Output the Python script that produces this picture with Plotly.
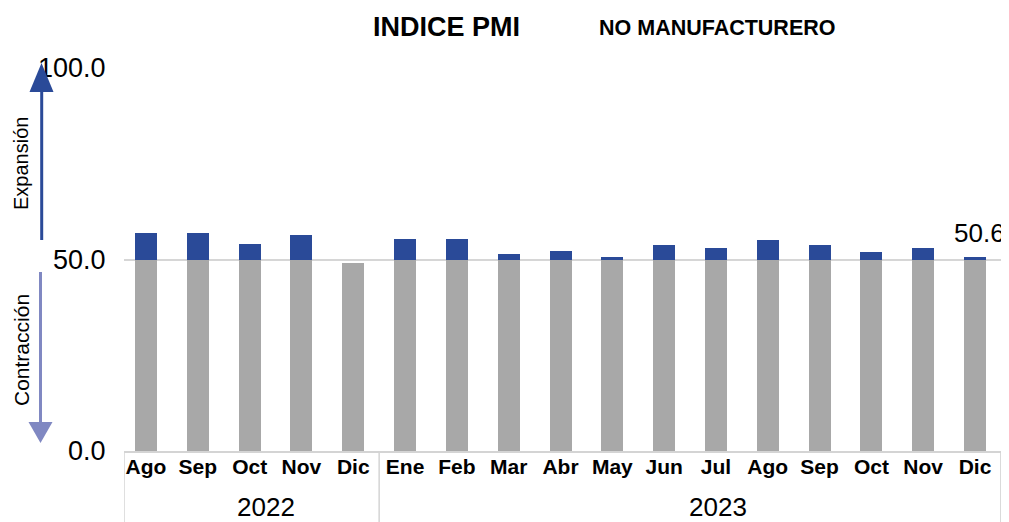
import plotly.graph_objects as go

months = ["Ago", "Sep", "Oct", "Nov", "Dic",
          "Ene", "Feb", "Mar", "Abr", "May", "Jun", "Jul", "Ago", "Sep", "Oct", "Nov", "Dic"]
years = ["2022", "2023"]
year_counts = [5, 12]
pmi = [56.9, 56.9, 54.0, 56.3, 49.2,
       55.3, 55.3, 51.4, 52.2, 50.6, 53.7, 53.0, 55.0, 53.7, 51.9, 53.0, 50.6]
threshold = 50.0
y_ticks = [0, 50, 100]

FONT = "Liberation Sans, Arial, sans-serif"
BLUE = "#2a4a98"
GREY = "#a8a8a8"
LIGHT = "#8088c2"

# the page body has an 8px margin; work in window pixels and convert
OFF = 8
WIN_W, WIN_H = 1009, 522
W, H = WIN_W - OFF, WIN_H - OFF
PLOT_L, PLOT_R, PLOT_T, PLOT_B = 124, 1007, 68, 451   # window pixels
L = PLOT_L - OFF
T = PLOT_T - OFF
R = W - (PLOT_R - OFF)
B = H - (PLOT_B - OFF)
PW, PH = W - L - R, H - T - B

# category axis: first bar centre at 146px, last at 975px
CAT_FIRST_PX, CAT_LAST_PX = 146, 975
n = len(months)
step = (CAT_LAST_PX - CAT_FIRST_PX) / (n - 1)
x_lo = (PLOT_L - CAT_FIRST_PX) / step
x_hi = (n - 1) + (PLOT_R - CAT_LAST_PX) / step


def px_x(px):
    return (px - PLOT_L) / PW


def px_y(py):
    return (PLOT_B - py) / PH


idx = list(range(n))
base_part = [min(v, threshold) for v in pmi]
above_part = [max(v - threshold, 0) for v in pmi]

fig = go.Figure()
fig.add_trace(go.Bar(x=idx, y=base_part, width=22 / step,
                     marker=dict(color=GREY, line=dict(width=0)), hoverinfo="skip"))
fig.add_trace(go.Bar(x=idx, y=above_part, width=22 / step,
                     marker=dict(color=BLUE, line=dict(width=0)),
                     customdata=pmi, hovertemplate="%{customdata}<extra></extra>"))

shapes = []
# arrows on the left
shapes.append(dict(type="line", xref="paper", yref="paper",
                   x0=px_x(41.7), x1=px_x(41.7), y0=px_y(240), y1=px_y(90),
                   line=dict(color=BLUE, width=3)))
shapes.append(dict(type="path", xref="paper", yref="paper",
                   path=f"M {px_x(29.5)} {px_y(92)} L {px_x(53.5)} {px_y(92)} L {px_x(41.5)} {px_y(63)} Z",
                   fillcolor=BLUE, line=dict(width=0)))
shapes.append(dict(type="line", xref="paper", yref="paper",
                   x0=px_x(40.5), x1=px_x(40.5), y0=px_y(272), y1=px_y(424),
                   line=dict(color=LIGHT, width=3)))
shapes.append(dict(type="path", xref="paper", yref="paper",
                   path=f"M {px_x(28.5)} {px_y(422)} L {px_x(52.5)} {px_y(422)} L {px_x(40.5)} {px_y(443)} Z",
                   fillcolor=LIGHT, line=dict(width=0)))
# category group separators
sep_positions = [-0.5]
acc = -0.5
for c in year_counts:
    acc += c
    sep_positions.append(acc)
for s in sep_positions:
    s = min(max(s, x_lo), x_hi)
    shapes.append(dict(type="line", xref="x", yref="paper", x0=s, x1=s, y0=0, y1=-B / PH,
                       line=dict(color="#d4d4d4", width=1.5)))


def ann(text, xp, yp, size, angle=0):
    return dict(text=text, xref="paper", yref="paper", x=px_x(xp), y=px_y(yp),
                xanchor="center", yanchor="middle", textangle=angle,
                showarrow=False, font=dict(family=FONT, size=size, color="black"))


annotations = [
    ann("<b>INDICE PMI</b>", 446, 27, 27),
    ann("<b>NO MANUFACTURERO</b>", 717, 28, 21.5),
    ann("Expansión", 21, 164, 20, -90),
    ann("Contracción", 21, 350, 21, -90),
    dict(text=f"{pmi[-1]:.1f}", xref="x", yref="y", x=idx[-1], y=pmi[-1],
         xanchor="center", yanchor="bottom", xshift=4, yshift=7, showarrow=False,
         font=dict(family=FONT, size=26, color="black")),
]
year_px = [266, 718]
for yl, xp in zip(years, year_px):
    annotations.append(ann(yl, xp, 507, 26))

fig.update_layout(
    width=W, height=H,
    margin=dict(l=L, r=R, t=T, b=B, pad=0, autoexpand=False),
    barmode="stack",
    showlegend=False,
    plot_bgcolor="white", paper_bgcolor="white",
    font=dict(family=FONT, color="black"),
    shapes=shapes, annotations=annotations,
    xaxis=dict(range=[x_lo, x_hi], tickvals=idx,
               ticktext=[f"<b>{m}</b>" for m in months],
               tickfont=dict(family=FONT, size=21, color="black"),
               showgrid=False, zeroline=False, showline=True, linecolor="#d4d4d4", linewidth=1.5,
               ticks="", ticklabelstandoff=-4, fixedrange=True),
    yaxis=dict(range=[0, 100], tickvals=y_ticks, tickformat=".1f",
               tickfont=dict(family=FONT, size=27, color="black"),
               showgrid=True, gridcolor="rgba(0,0,0,0.16)", gridwidth=2,
               zeroline=False, showline=False, layer="above traces",
               ticks="outside", ticklen=12, tickcolor="rgba(0,0,0,0)", fixedrange=True),
)

fig.write_html("out.html")
